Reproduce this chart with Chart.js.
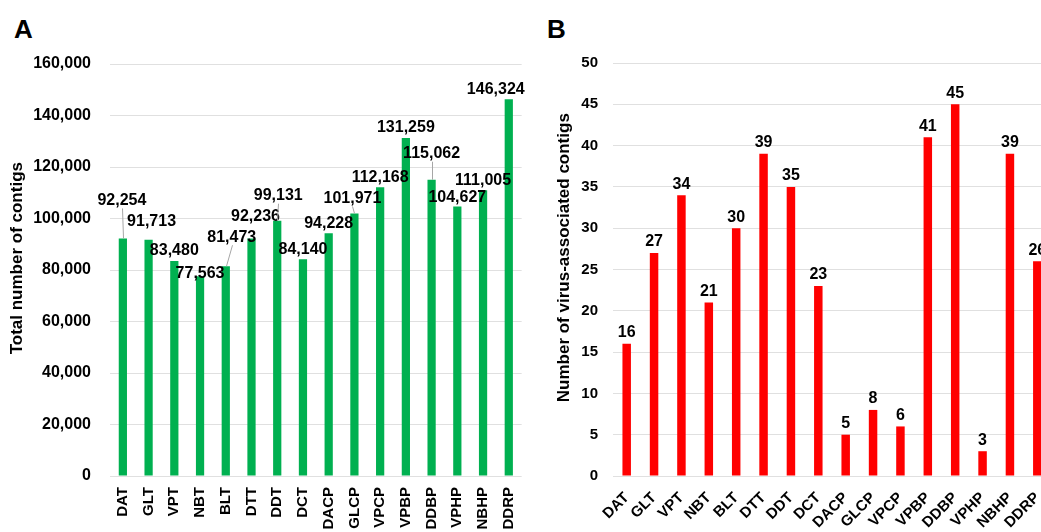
<!DOCTYPE html>
<html>
<head>
<meta charset="utf-8">
<script src="https://cdn.jsdelivr.net/npm/chart.js@4.4.1/dist/chart.umd.min.js"></script>
<style>
body { margin:0; width:1041px; height:532px; overflow:hidden; background:#fff; position:relative; font-family:"Liberation Sans", Arial, sans-serif; }
#pieA { position:absolute; left:0; top:0; }
#pieB { position:absolute; left:530px; top:0; }
.tag { position:absolute; font-weight:bold; font-size:26px; line-height:26px; }
</style>
</head>
<body>
<div class="tag" style="left:14px;top:16px">A</div>
<div class="tag" style="left:547px;top:16px">B</div>
<canvas id="pieA" width="530" height="532"></canvas>
<canvas id="pieB" width="540" height="532"></canvas>
<script>
const samples = ["DAT", "GLT", "VPT", "NBT", "BLT", "DTT", "DDT", "DCT", "DACP", "GLCP", "VPCP", "VPBP", "DDBP", "VPHP", "NBHP", "DDRP"]
const totalContigs = [92254, 91713, 83480, 77563, 81473, 92236, 99131, 84140, 94228, 101971, 112168, 131259, 115062, 104627, 111005, 146324]
const virusContigs = [16, 27, 34, 21, 30, 39, 35, 23, 5, 8, 6, 41, 45, 3, 39, 26]

// label nudges for panel A (px from bar top), some labels have leader lines
const nudgeA = [[-1, -38], [3, -18], [0, -10], [0, -3], [6, -29], [4, -22], [1, -25], [0, -10],
  [0, -10], [-2, -15], [0, -10], [0, -10], [0, -26], [0, -9], [0, -10], [-13, -10]]
const leaderA = [1, 0, 0, 0, 1, 0, 1, 0, 0, 1, 0, 0, 1, 0, 0, 0]

const font = '"Liberation Sans", Arial, sans-serif'
const pad = '\u00a0'.repeat(5) // nudges the axis titles up a little

function barLabels(nudge, leader) {
  return {
    id: 'barLabels',
    afterDatasetsDraw(chart) {
      const c = chart.ctx
      const bars = chart.getDatasetMeta(0).data
      const vals = chart.data.datasets[0].data
      c.save()
      c.font = 'bold 16px ' + font
      c.fillStyle = '#000'
      c.textAlign = 'center'
      c.textBaseline = 'middle'
      bars.forEach((bar, i) => {
        const n = nudge ? nudge[i] : [0, -11]
        const x = bar.x + n[0], y = bar.y + n[1]
        if (leader && leader[i]) {
          c.strokeStyle = '#a6a6a6'
          c.lineWidth = 1
          c.beginPath()
          c.moveTo(Math.round(bar.x) + 0.5, bar.y)
          c.lineTo(Math.round(x) + 0.5, y + 8)
          c.stroke()
        }
        c.fillText(vals[i].toLocaleString('en-US'), x, y)
      })
      c.restore()
    }
  }
}

Chart.defaults.font.family = font
Chart.defaults.color = '#000'

new Chart(document.getElementById("pieA"), {
  type: "bar",
  data: {
    labels: samples,
    datasets: [{ data: totalContigs, backgroundColor: "#00b050", barPercentage: 0.32, categoryPercentage: 1 }]
  },
  options: {
    responsive: false, animation: false,
    layout: { padding: { top: 64, right: 7, left: 0, bottom: 0 } },
    plugins: { legend: { display: false }, tooltip: { enabled: false } },
    scales: {
      x: {
        grid: { display: false }, border: { display: false },
        ticks: { autoSkip: false, minRotation: 90, maxRotation: 90, padding: 3, font: { size: 15, weight: 'bold' } },
        afterFit(s) { s.height = 56 }
      },
      y: {
        min: 0, max: 160000,
        grid: { color: '#e0e0e0', drawTicks: false }, border: { display: false },
        ticks: { stepSize: 20000, padding: 19, font: { size: 16, weight: 'bold' } },
        title: { display: true, text: pad + 'Total number of contigs', font: { size: 17, weight: 'bold' }, padding: { top: 7, bottom: 0 } },
        afterFit(s) { s.width = 110 }
      }
    }
  },
  plugins: [barLabels(nudgeA, leaderA)]
})

new Chart(document.getElementById("pieB"), {
  type: "bar",
  data: {
    labels: samples,
    datasets: [{ data: virusContigs, backgroundColor: "#ff0000", barPercentage: 0.31, categoryPercentage: 1 }]
  },
  options: {
    responsive: false, animation: false,
    layout: { padding: { top: 63, right: 19, left: 0, bottom: 0 } },
    plugins: { legend: { display: false }, tooltip: { enabled: false } },
    scales: {
      x: {
        grid: { display: false }, border: { display: false },
        ticks: { autoSkip: false, minRotation: 45, maxRotation: 45, padding: 5, font: { size: 15, weight: 'bold' } },
        afterFit(s) { s.height = 56 }
      },
      y: {
        min: 0, max: 50,
        grid: { color: '#e0e0e0', drawTicks: false }, border: { display: false },
        ticks: { stepSize: 5, padding: 15, font: { size: 15, weight: 'bold' } },
        title: { display: true, text: pad + 'Number of virus-associated contigs', font: { size: 17, weight: 'bold' }, padding: { top: 24, bottom: 0 } },
        afterFit(s) { s.width = 83 }
      }
    }
  },
  plugins: [barLabels(null, null)]
})
</script>
</body>
</html>
